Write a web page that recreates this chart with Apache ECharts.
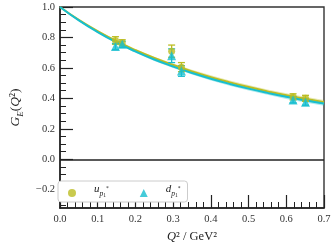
<!DOCTYPE html>
<html><head><meta charset="utf-8">
<script src="https://cdn.jsdelivr.net/npm/echarts@6/dist/echarts.min.js"></script>
<style>html,body{margin:0;padding:0;background:#fff}#c{width:335px;height:251px}</style>
</head><body><div id="c"></div>
<script>
// ---- data ----
const curveQ2 = [0,0.05,0.10,0.15,0.20,0.25,0.30,0.35,0.40,0.45,0.50,0.55,0.60,0.65,0.70];
const uFit    = [1.000,0.915,0.841,0.775,0.717,0.665,0.619,0.577,0.539,0.505,0.474,0.446,0.420,0.397,0.375];
const dFit    = [1.000,0.912,0.835,0.767,0.708,0.655,0.609,0.567,0.529,0.495,0.464,0.436,0.410,0.387,0.366];
const uBandHalf = [0,0.003,0.005,0.007,0.008,0.009,0.010,0.011,0.012,0.012,0.013,0.013,0.014,0.014,0.015];
const dBandHalf = [0,0.003,0.005,0.007,0.008,0.009,0.010,0.011,0.012,0.012,0.013,0.013,0.014,0.014,0.015];

const uQ2  = [0.147,0.165,0.296,0.322,0.618,0.651];
const uGE  = [0.780,0.765,0.710,0.605,0.410,0.400];
const uErr = [0.025,0.020,0.040,0.030,0.020,0.020];
const dQ2  = [0.147,0.165,0.296,0.322,0.618,0.651];
const dGE  = [0.740,0.755,0.680,0.580,0.390,0.375];
const dErr = [0.020,0.020,0.045,0.035,0.020,0.020];

const yMajorTicks = [-0.2,0.0,0.2,0.4,0.6,0.8,1.0];
const yMinorStep = 0.05;

const OLIVE = '#bcbd22', CYAN = '#17becf';
const FONT = 'Liberation Serif';

const zip = (a,b) => a.map((v,i)=>[v,b[i]]);
const yMinor = [];
for (let k=-6;k<=19;k++){ const v=+(k*yMinorStep).toFixed(2); if(Math.abs(v*5-Math.round(v*5))>1e-6) yMinor.push(v); }

function errRender(color){
  return function(params, api){
    const x=api.value(0), y=api.value(1), e=api.value(2);
    const t=api.coord([x,y+e]), b=api.coord([x,y-e]);
    const hw=3.5, st={stroke:color,lineWidth:1.3};
    return {type:'group',children:[
      {type:'line',shape:{x1:t[0],y1:t[1],x2:b[0],y2:b[1]},style:st},
      {type:'line',shape:{x1:t[0]-hw,y1:t[1],x2:t[0]+hw,y2:t[1]},style:st},
      {type:'line',shape:{x1:b[0]-hw,y1:b[1],x2:b[0]+hw,y2:b[1]},style:st}
    ]};
  };
}
function bandSeries(name, fit, half, color){
  return {
    name:name,type:'custom',silent:true,data:[[0,0]],encode:{x:0,y:1},z:1,
    renderItem:function(params, api){
      const up=curveQ2.map((q,i)=>api.coord([q,fit[i]+half[i]]));
      const lo=curveQ2.map((q,i)=>api.coord([q,fit[i]-half[i]])).reverse();
      return {type:'polygon',shape:{points:up.concat(lo)},style:{fill:color,opacity:0.35}};
    }
  };
}

const leg = {
  m:{fontFamily:FONT,fontStyle:'italic',fontSize:11,lineHeight:12,verticalAlign:'bottom',padding:[0,0,4,13],color:'#222'},
  s:{fontFamily:FONT,fontStyle:'italic',fontSize:7.5,lineHeight:8,verticalAlign:'bottom',padding:[0,0,1,0],color:'#222'},
  ss:{fontFamily:FONT,fontSize:5.5,lineHeight:6,verticalAlign:'bottom',padding:[0,0,0,0],color:'#222'},
  sp:{fontFamily:FONT,fontSize:5.5,lineHeight:6,verticalAlign:'bottom',padding:[0,0,7,0],color:'#222'}
};

const chart = echarts.init(document.getElementById('c'),null,{renderer:'canvas'});
chart.setOption({
  animation:false,
  textStyle:{fontFamily:FONT},
  grid:{left:52,top:7,right:11,bottom:43,show:true,borderColor:'#333',borderWidth:1.4,backgroundColor:'transparent'},
  legend:{
    left:58,top:181,orient:'horizontal',itemWidth:8,itemHeight:8,itemGap:31,
    backgroundColor:'#fff',borderColor:'#cccccc',borderWidth:1,borderRadius:3,
    padding:[3,7,3,10],
    data:[{name:'u',icon:'circle'},{name:'d',icon:'triangle'}],
    formatter:function(n){ return '{m|'+n+'}{s|p}{ss|1}{sp|*}'; },
    textStyle:{rich:leg}
  },
  xAxis:{
    type:'value',min:0,max:0.7,interval:0.1,
    axisLine:{onZero:false,lineStyle:{color:'#222',width:1.5}},
    axisTick:{inside:true,length:13,lineStyle:{color:'#222',width:1.2}},
    minorTick:{show:true,splitNumber:5,length:6,lineStyle:{color:'#222',width:1}},
    splitLine:{show:false},
    axisLabel:{color:'#333',fontFamily:FONT,fontSize:10.5,margin:6,formatter:v=>v.toFixed(1)},
    name:'{i|Q}{n|² / GeV²}',nameLocation:'middle',nameGap:20,
    nameTextStyle:{rich:{i:{fontFamily:FONT,fontStyle:'italic',fontSize:12.5,color:'#222'},n:{fontFamily:FONT,fontSize:12.5,color:'#222'}}}
  },
  yAxis:[{
    type:'value',min:-0.32,max:1.0,
    axisLine:{onZero:false,lineStyle:{color:'#222',width:1.5}},
    axisTick:{inside:true,length:13,customValues:yMajorTicks,lineStyle:{color:'#222',width:1.2}},
    splitLine:{show:false},
    axisLabel:{color:'#333',fontFamily:FONT,fontSize:10.5,margin:5,customValues:yMajorTicks,
      formatter:v=>(v<0?'−':'')+Math.abs(v).toFixed(1)},
    name:'{i|G}{s|E}{n|(}{i|Q}{n|²)}',nameLocation:'middle',nameGap:35,nameRotate:90,
    nameTextStyle:{rich:{
      i:{fontFamily:FONT,fontStyle:'italic',fontSize:13.5,lineHeight:15,verticalAlign:'bottom',padding:[0,0,3,0],color:'#222'},
      n:{fontFamily:FONT,fontSize:13.5,lineHeight:15,verticalAlign:'bottom',padding:[0,0,3,0],color:'#222'},
      s:{fontFamily:FONT,fontStyle:'italic',fontSize:9,lineHeight:10,verticalAlign:'bottom',padding:[0,0,0,0],color:'#222'}
    }}
  },{
    type:'value',min:-0.32,max:1.0,position:'left',
    axisLine:{show:false},
    axisTick:{inside:true,length:6,customValues:yMinor,lineStyle:{color:'#222',width:1}},
    axisLabel:{show:false},splitLine:{show:false}
  }],
  series:[
    bandSeries('ub',uFit,uBandHalf,OLIVE),
    bandSeries('db',dFit,dBandHalf,CYAN),
    {name:'ufit',type:'line',data:zip(curveQ2,uFit),symbol:'none',smooth:true,lineStyle:{color:OLIVE,width:2},silent:true,z:2,
      markLine:{silent:true,symbol:'none',label:{show:false},lineStyle:{color:'#222',width:1.5,type:'solid'},data:[{yAxis:0}]}},
    {name:'dfit',type:'line',data:zip(curveQ2,dFit),symbol:'none',smooth:true,lineStyle:{color:CYAN,width:2},silent:true,z:2},
    {name:'uerr',type:'custom',renderItem:errRender(OLIVE),encode:{x:0,y:1},data:uQ2.map((q,i)=>[q,uGE[i],uErr[i]]),z:3},
    {name:'u',type:'scatter',symbol:'circle',symbolSize:7,itemStyle:{color:OLIVE},data:zip(uQ2,uGE),z:3},
    {name:'derr',type:'custom',renderItem:errRender(CYAN),encode:{x:0,y:1},data:dQ2.map((q,i)=>[q,dGE[i],dErr[i]]),z:3},
    {name:'d',type:'scatter',symbol:'triangle',symbolSize:9,itemStyle:{color:CYAN},data:zip(dQ2,dGE),z:3}
  ]
});
</script></body></html>
